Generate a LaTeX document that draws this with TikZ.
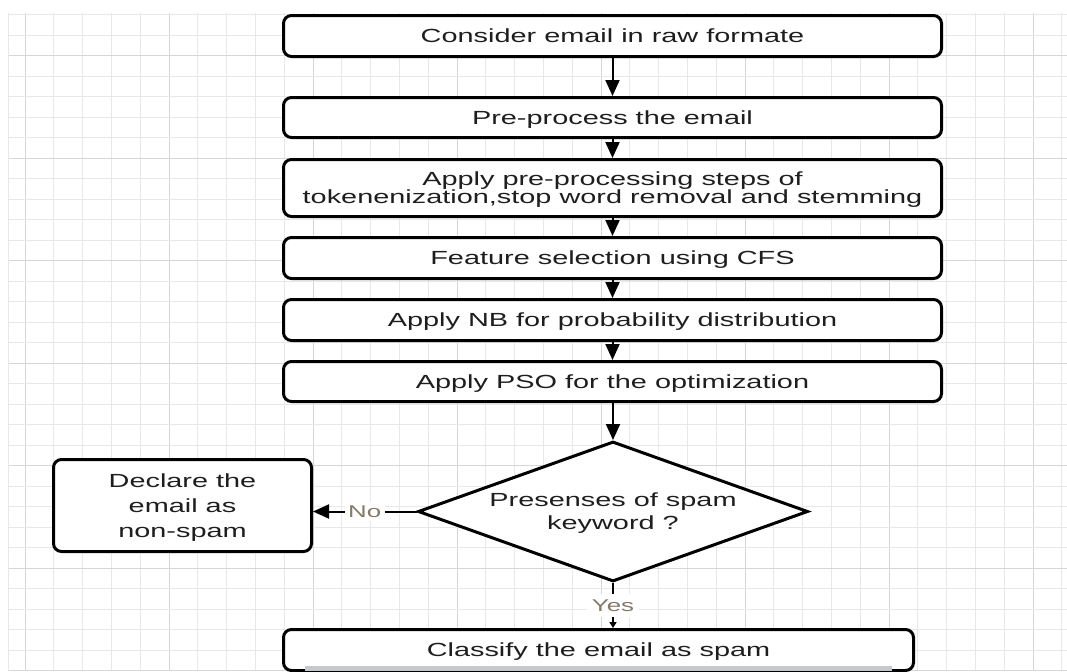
\documentclass[tikz,border=0pt]{standalone}
\usepackage{fontspec}
\setmainfont{Liberation Sans}[FakeStretch=1.52]
\usetikzlibrary{shapes.geometric,arrows.meta}
\definecolor{gridminor}{HTML}{E8E8E8}
\definecolor{gridmajor}{HTML}{D6D6D6}
\definecolor{textdark}{HTML}{1E1E1E}
\definecolor{labelbrown}{HTML}{857A6A}
\definecolor{scrollbar}{HTML}{C5C9CD}
\tikzset{gridline/.style={gridminor, line width=0.75pt}, gridbold/.style={gridmajor, line width=0.75pt}}
\tikzset{stepbox/.style={draw, line width=2.25pt, rounded corners=6pt, fill=white, text=textdark, minimum width=493.5pt, inner sep=0pt, text depth=0pt, align=center, font=\fontsize{14.25pt}{13.5pt}\selectfont},
  decisionbox/.style={diamond, draw, line width=2.25pt, fill=white, text=textdark, shape aspect=2.75, minimum width=292.5pt, minimum height=105pt, inner sep=0pt, text depth=0pt, align=center, font=\fontsize{14.25pt}{17.25pt}\selectfont},
  flowarrow/.style={line width=1.5pt, -{Triangle[length=12pt,width=10.5pt]}},
  edgelabel/.style={fill=white, text=labelbrown, inner sep=2.5pt, font=\fontsize{12.75pt}{14pt}\selectfont}}

\begin{document}
\begin{tikzpicture}[x=0.75pt,y=-0.75pt]
  \clip (0,0) rectangle (1067,671);
  \fill[white] (0,0) rectangle (1067,671);
  % grid paper
  \foreach \k in {0,...,36} \draw[gridline] ({25+28.8*\k},13) -- ({25+28.8*\k},671);
  \foreach \k in {0,5,...,35} \draw[gridbold] ({25+28.8*\k},13) -- ({25+28.8*\k},671);
  \foreach \k in {0,...,32} \draw[gridline] (8,{14.5+20.5*\k}) -- (1067,{14.5+20.5*\k});
  \foreach \k in {2,7,...,32} \draw[gridbold] (8,{14.5+20.5*\k}) -- (1067,{14.5+20.5*\k});
  \draw[gridline] (8,13) -- (8,671);
  % steps
  \node[stepbox, minimum height=30.75pt] (raw)   at (612.5, 36.0) {Consider email in raw formate};
  \node[stepbox, minimum height=30pt]    (prep)  at (612.5,117.5) {Pre-process the email};
  \node[stepbox, minimum height=42.75pt] (steps) at (612.5,188.0) {Apply pre-processing steps of\\tokenenization,stop word removal and stemming};
  \node[stepbox, minimum height=30.75pt] (cfs)   at (612.5,258.0) {Feature selection using CFS};
  \node[stepbox, minimum height=30.75pt] (nb)    at (612.5,320.0) {Apply NB for probability distribution};
  \node[stepbox, minimum height=30pt]    (pso)   at (612.5,381.5) {Apply PSO for the optimization};
  \node[decisionbox] (spam) at (613,511.5) {Presenses of spam\\keyword ?};
  \node[stepbox, minimum width=193.5pt, minimum height=69pt, font=\fontsize{14.25pt}{18.75pt}\selectfont] (nonspam) at (182.5,505.5) {Declare the\\email as\\non-spam};
  \node[stepbox, minimum width=472.5pt, minimum height=30.75pt] (isspam) at (598.5,650.0) {Classify the email as spam};
  \fill[scrollbar] (305,666) rectangle (892,671);
  % connectors
  \draw[flowarrow] (raw) -- (prep);
  \draw[flowarrow] (prep) -- (steps);
  \draw[flowarrow] (steps) -- (cfs);
  \draw[flowarrow] (cfs) -- (nb);
  \draw[flowarrow] (nb) -- (pso);
  \draw[flowarrow] (pso.south -| spam.north) -- (spam.north);
  \draw[flowarrow] (spam.west) -- node[edgelabel] {No} (spam.west -| nonspam.east);
  \draw[line width=1.5pt, -{Triangle[length=4.5pt,width=5.25pt]}] (spam.south) -- node[edgelabel, inner sep=4pt] {Yes} (spam.south |- isspam.north);
\end{tikzpicture}
\end{document}
